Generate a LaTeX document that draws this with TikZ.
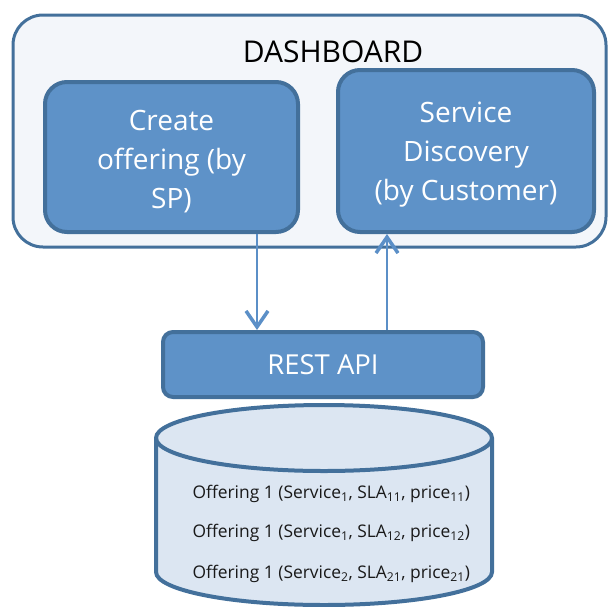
\documentclass[tikz,border=0pt]{standalone}
\usepackage{fontspec}
\setmainfont{Open Sans}
\usetikzlibrary{arrows.meta,shapes.geometric}
\definecolor{boxfill}{RGB}{94,146,200}
\definecolor{boxline}{RGB}{67,112,155}
\definecolor{outerfill}{RGB}{243,246,250}
\definecolor{cylfill}{RGB}{220,230,242}
\definecolor{arrowc}{RGB}{91,143,199}
\tikzset{
  outerbox/.style={draw=boxline, fill=outerfill, line width=3pt, rounded corners=30pt, inner sep=0pt},
  bluebox/.style={draw=boxline, fill=boxfill, line width=4pt, rounded corners=22pt, inner sep=0pt},
  boxtext/.style={text=white, align=center, inner sep=0pt, font=\fontsize{28}{39}\selectfont},
  restbox/.style={draw=boxline, fill=boxfill, line width=4pt, rounded corners=10pt, inner sep=0pt,
    text=white, font=\fontsize{27.5}{32}\selectfont},
  conn/.style={draw=arrowc, line width=2pt, -{Straight Barb[length=16pt,width=22pt,line width=3.5pt]}},
  rowtext/.style={font=\fontsize{17.4}{20}\selectfont, anchor=west, text=black!90},
}
\begin{document}
\begin{tikzpicture}[x=1pt,y=-1pt]
\useasboundingbox (0,0) rectangle (608,606);
\clip (0,0) rectangle (608,606);
% dashboard
\node[outerbox, minimum width=593pt, minimum height=232pt] (dash) at (309.5,131) {};
\node[font=\fontsize{30}{34}\selectfont] (dtitle) at (333,52) {DASHBOARD};
\node[bluebox, minimum width=253pt, minimum height=150pt] (create) at (171.5,157) {};
\node[boxtext] (createt) at (171.5,162) {Create\\offering (by\\SP)};
\node[bluebox, minimum width=256pt, minimum height=162pt] (disc) at (466,151) {};
\node[boxtext] (disct) at (466,155) {Service\\Discovery\\(by Customer)};
% rest api
\node[restbox, minimum width=320pt, minimum height=65pt] (rest) at (323,364.5) {REST API};
% cylinder
\def\cx{324}\def\rx{168}\def\ry{33}\def\ty{438}\def\by{572}
\draw[boxline, fill=cylfill, line width=4pt]
  (\cx-\rx,\ty) -- (\cx-\rx,\by) arc[start angle=180, end angle=0, x radius=\rx, y radius=\ry]
  -- (\cx+\rx,\ty) arc[start angle=0, end angle=-180, x radius=\rx, y radius=\ry] -- cycle;
\draw[boxline, line width=4pt] (\cx-\rx,\ty) arc[start angle=180, end angle=0, x radius=\rx, y radius=\ry];
\node[rowtext] (r1) at (189,494) {Offering 1 (Service\textsubscript{1}, SLA\textsubscript{11}, price\textsubscript{11})};
\node[rowtext] (r2) at (189,533) {Offering 1 (Service\textsubscript{1}, SLA\textsubscript{12}, price\textsubscript{12})};
\node[rowtext] (r3) at (189,574) {Offering 1 (Service\textsubscript{2}, SLA\textsubscript{21}, price\textsubscript{21})};
% connectors
\draw[conn] (create.south -| 257,0) -- (rest.north -| 257,0);
\draw[conn] (rest.north -| 387,0) -- (disc.south -| 387,0);
\end{tikzpicture}
\end{document}
